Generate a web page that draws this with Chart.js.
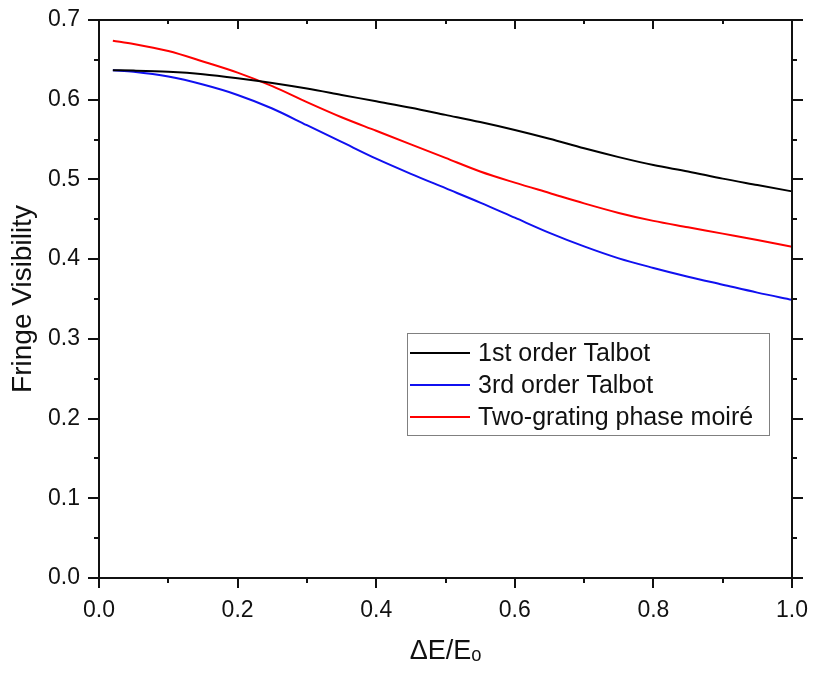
<!DOCTYPE html>
<html>
<head>
<meta charset="utf-8">
<script src="https://cdn.jsdelivr.net/npm/chart.js@4/dist/chart.umd.min.js"></script>
<style>
  html, body { margin: 0; padding: 0; background: #fff; }
  #wrap { width: 813px; height: 675px; }
</style>
</head>
<body>
<div id="wrap"><canvas id="c" width="813" height="675"></canvas></div>
<script>
// ---- data ----
const deltaE = [0.02, 0.05, 0.10, 0.15, 0.20, 0.25, 0.30, 0.35, 0.40, 0.45, 0.50,
                0.55, 0.60, 0.65, 0.70, 0.75, 0.80, 0.85, 0.90, 0.95, 1.00];
const firstOrderTalbot = [0.637, 0.6365, 0.635, 0.632, 0.627, 0.621, 0.614, 0.606, 0.598, 0.590, 0.581,
                          0.572, 0.562, 0.551, 0.539, 0.528, 0.518, 0.510, 0.501, 0.493, 0.485];
const thirdOrderTalbot = [0.637, 0.635, 0.629, 0.619, 0.606, 0.589, 0.568, 0.547, 0.526, 0.507, 0.489,
                          0.471, 0.452, 0.433, 0.416, 0.401, 0.389, 0.378, 0.368, 0.358, 0.349];
const twoGratingMoire = [0.674, 0.670, 0.661, 0.648, 0.634, 0.617, 0.597, 0.578, 0.561, 0.544, 0.527,
                         0.510, 0.496, 0.483, 0.470, 0.458, 0.448, 0.440, 0.432, 0.424, 0.4155];
const seriesLabels = ['1st order Talbot', '3rd order Talbot', 'Two-grating phase moiré'];
const seriesColors = ['#000000', '#1010f0', '#ff0000'];
const xTickLabels = ['0.0', '0.2', '0.4', '0.6', '0.8', '1.0'];
const yTickLabels = ['0.0', '0.1', '0.2', '0.3', '0.4', '0.5', '0.6', '0.7'];
const xTitle = 'ΔE/Eₒ';
const yTitle = 'Fringe Visibility';

const FONT = "'Liberation Sans', Arial, sans-serif";

function pts(ys) { return deltaE.map((x, i) => ({ x: x, y: ys[i] })); }

// axes frame with ticks: outward on left/bottom/right, inward on top
const framePlugin = {
  id: 'frame',
  afterDraw(chart) {
    const { ctx, chartArea: a, scales: { x, y } } = chart;
    ctx.save();
    ctx.strokeStyle = '#111';
    ctx.lineWidth = 2;
    ctx.lineCap = 'butt';
    ctx.beginPath();
    ctx.rect(a.left, a.top, a.right - a.left, a.bottom - a.top);
    ctx.stroke();
    ctx.beginPath();
    for (let v = 0; v <= 10; v++) {
      const px = Math.round(x.getPixelForValue(v / 10));
      const major = v % 2 === 0;
      ctx.moveTo(px, a.bottom); ctx.lineTo(px, a.bottom + (major ? 10 : 5));
      ctx.moveTo(px, a.top); ctx.lineTo(px, a.top + (major ? 9 : 4));
    }
    for (let v = 0; v <= 14; v++) {
      const py = Math.round(y.getPixelForValue(v * 0.05));
      const major = v % 2 === 0;
      ctx.moveTo(a.left, py); ctx.lineTo(a.left - (major ? 11 : 5), py);
      ctx.moveTo(a.right, py); ctx.lineTo(a.right + (major ? 11 : 5), py);
    }
    ctx.stroke();
    ctx.restore();
  }
};

// legend box inside the plot
const legendPlugin = {
  id: 'boxLegend',
  afterDatasetsDraw(chart) {
    const { ctx } = chart;
    const bx = 407, by = 333, bw = 362, bh = 102;
    ctx.save();
    ctx.fillStyle = '#fff';
    ctx.fillRect(bx, by, bw, bh);
    ctx.strokeStyle = '#808080';
    ctx.lineWidth = 1;
    ctx.strokeRect(bx + 0.5, by + 0.5, bw, bh);
    ctx.font = '25px ' + FONT;
    ctx.textBaseline = 'middle';
    ctx.textAlign = 'left';
    chart.data.datasets.forEach((ds, i) => {
      const cy = by + 20 + i * 32;
      ctx.strokeStyle = ds.borderColor;
      ctx.lineWidth = 2;
      ctx.beginPath();
      ctx.moveTo(bx + 3, cy); ctx.lineTo(bx + 63, cy);
      ctx.stroke();
      ctx.fillStyle = '#111';
      ctx.fillText(ds.label, bx + 71, cy + 1);
    });
    ctx.restore();
  }
};

new Chart(document.getElementById('c'), {
  type: 'line',
  data: {
    datasets: [firstOrderTalbot, thirdOrderTalbot, twoGratingMoire].map((ys, i) => ({
      label: seriesLabels[i],
      data: pts(ys),
      borderColor: seriesColors[i],
      backgroundColor: seriesColors[i],
      borderWidth: 2,
      pointRadius: 0,
      fill: false,
      cubicInterpolationMode: 'monotone'
    }))
  },
  options: {
    responsive: false,
    animation: false,
    devicePixelRatio: 1,
    layout: { padding: { top: 20, right: 21, left: 0, bottom: 0 } },
    plugins: { legend: { display: false }, tooltip: { enabled: false } },
    scales: {
      x: {
        type: 'linear', min: 0, max: 1,
        grid: { display: false, drawTicks: false },
        border: { display: false },
        afterFit(s) { s.height = 97; s.paddingLeft = 0; s.paddingRight = 0; },
        ticks: {
          stepSize: 0.2, padding: 19, color: '#111',
          font: { family: FONT, size: 23 },
          callback: (v) => { const k = Math.round(v * 5); return xTickLabels[k]; }
        },
        title: {
          display: true, text: xTitle, color: '#111',
          font: { family: FONT, size: 27 },
          padding: { top: 0, bottom: 7 }
        }
      },
      y: {
        type: 'linear', min: 0, max: 0.7,
        grid: { display: false, drawTicks: false },
        border: { display: false },
        afterFit(s) { s.width = 99; s.paddingTop = 0; s.paddingBottom = 0; },
        ticks: {
          stepSize: 0.1, padding: 19, color: '#111',
          font: { family: FONT, size: 23 },
          callback: (v) => yTickLabels[Math.round(v * 10)]
        },
        title: {
          display: true, text: yTitle, color: '#111',
          font: { family: FONT, size: 28 },
          padding: { top: 6, bottom: 0 }
        }
      }
    }
  },
  plugins: [framePlugin, legendPlugin]
});
</script>
</body>
</html>
